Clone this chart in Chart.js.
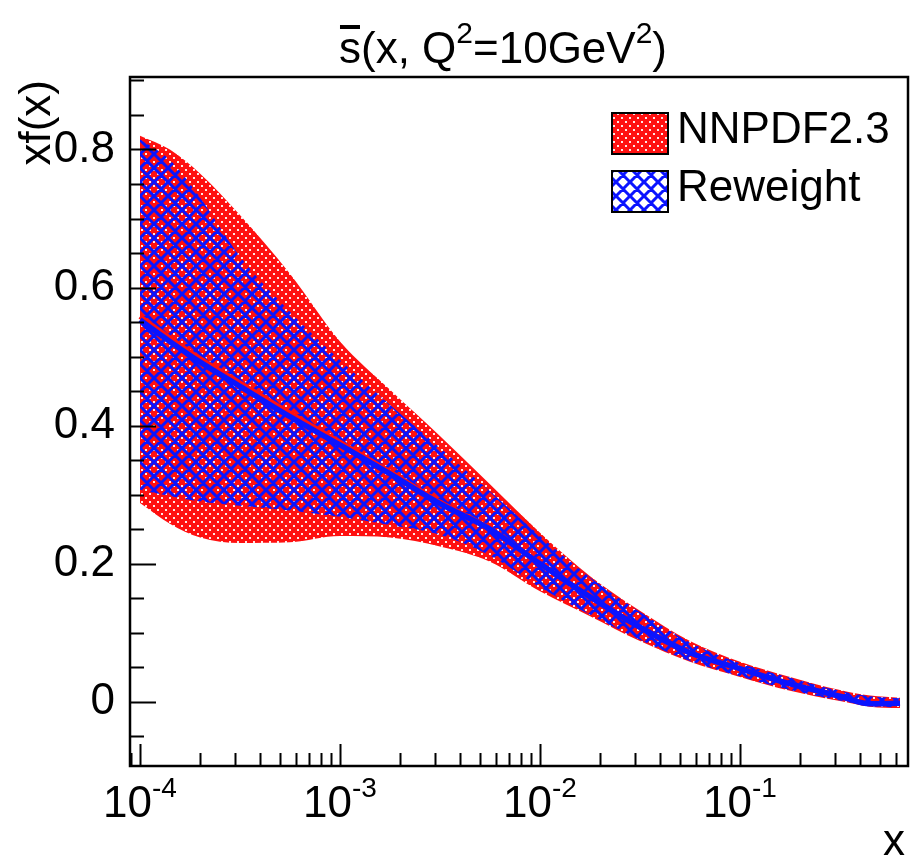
<!DOCTYPE html>
<html>
<head>
<meta charset="utf-8">
<script src="https://cdn.jsdelivr.net/npm/chart.js@4.4.1/dist/chart.umd.min.js"></script>
<style>
  html, body { margin: 0; padding: 0; background: #fff; }
  canvas { display: block; }
</style>
</head>
<body>
<canvas id="pdfChart" width="910" height="862"></canvas>
<script>
// x points (log spaced) and band values
const xVals = [1e-4, 1.41e-4, 2e-4, 3.16e-4, 5.62e-4, 1e-3, 1.78e-3, 3.16e-3, 5.62e-3,
               1e-2, 1.78e-2, 3.16e-2, 5.62e-2, 0.1, 0.178, 0.316, 0.447, 0.631];

const nnpdfUpper   = [0.820, 0.800, 0.765, 0.705, 0.620, 0.522, 0.452, 0.385, 0.315,
                      0.245, 0.182, 0.132, 0.088, 0.058, 0.036, 0.017, 0.009, 0.006];
const nnpdfLower   = [0.288, 0.258, 0.238, 0.230, 0.231, 0.240, 0.238, 0.225, 0.203,
                      0.160, 0.124, 0.088, 0.058, 0.036, 0.016, 0.001, -0.007, -0.009];
const nnpdfCentral = [0.558, 0.527, 0.497, 0.462, 0.418, 0.376, 0.333, 0.289, 0.251,
                      0.200, 0.152, 0.108, 0.071, 0.048, 0.026, 0.008, -0.003, -0.002];

const rwUpper   = [0.815, 0.785, 0.730, 0.645, 0.565, 0.495, 0.430, 0.368, 0.305,
                   0.240, 0.180, 0.130, 0.086, 0.056, 0.035, 0.016, 0.008, 0.005];
const rwLower   = [0.307, 0.298, 0.290, 0.284, 0.277, 0.268, 0.256, 0.242, 0.212,
                   0.166, 0.126, 0.090, 0.059, 0.037, 0.017, 0.002, -0.006, -0.008];
const rwCentral = [0.553, 0.522, 0.492, 0.457, 0.413, 0.372, 0.330, 0.287, 0.250,
                   0.200, 0.152, 0.108, 0.071, 0.048, 0.026, 0.008, -0.003, -0.002];

// tick labels
const yTickLabels = [0, 0.2, 0.4, 0.6, 0.8];
const xTickDecades = [-4, -3, -2, -1];
const legendLabels = ['NNPDF2.3', 'Reweight'];

const FONT = '"Liberation Sans", Arial, Helvetica, sans-serif';

function pts(arr) {
    return xVals.map((x, i) => ({ x: x, y: arr[i] }));
}

// red dotted fill
function makeRedPattern() {
    const c = document.createElement('canvas');
    c.width = 8; c.height = 8;
    const g = c.getContext('2d');
    g.fillStyle = '#ff1010';
    g.fillRect(0, 0, 8, 8);
    g.fillStyle = 'rgba(255,255,255,0.9)';
    g.fillRect(1, 1, 2, 2);
    g.fillRect(5, 5, 2, 2);
    return g.createPattern(c, 'repeat');
}

// blue cross hatch
function makeBluePattern() {
    const s = 14;
    const c = document.createElement('canvas');
    c.width = s; c.height = s;
    const g = c.getContext('2d');
    g.strokeStyle = '#0a14ff';
    g.lineWidth = 3;
    g.beginPath();
    for (let k = -1; k <= 1; k++) {
        g.moveTo(k * s, 0); g.lineTo(k * s + s, s);
        g.moveTo(k * s + s, 0); g.lineTo(k * s, s);
    }
    g.stroke();
    return g.createPattern(c, 'repeat');
}

const redPattern = makeRedPattern();
const bluePattern = makeBluePattern();

// frame, inward ticks and all the text
const decorations = {
    id: 'decorations',
    afterDatasetsDraw(chart) {
        const { ctx, chartArea: a, scales: { x, y } } = chart;
        ctx.save();
        ctx.strokeStyle = '#000';
        ctx.lineWidth = 2;
        ctx.beginPath();
        // y ticks every 0.05, long ones at 0.2
        for (let i = -2; i <= 18; i++) {
            const v = i * 0.05;
            if (v < y.min || v > y.max) continue;
            const py = Math.round(y.getPixelForValue(v)) + 0.5;
            const len = (i % 4 === 0) ? 26 : 14;
            ctx.moveTo(a.left, py); ctx.lineTo(a.left + len, py);
        }
        // x ticks: decades and 2..9
        for (let d = -5; d <= 0; d++) {
            for (let m = 1; m <= 9; m++) {
                const v = m * Math.pow(10, d);
                if (v < x.min || v > x.max) continue;
                const px = Math.round(x.getPixelForValue(v)) + 0.5;
                const len = (m === 1) ? 22 : 13;
                ctx.moveTo(px, a.bottom); ctx.lineTo(px, a.bottom - len);
            }
        }
        ctx.stroke();
        ctx.lineWidth = 2.5;
        ctx.strokeRect(a.left, a.top, a.right - a.left, a.bottom - a.top);
        ctx.restore();
    },
    afterDraw(chart) {
        const { ctx, chartArea: a, scales: { x, y } } = chart;
        ctx.save();
        ctx.fillStyle = '#000';

        // y labels
        ctx.font = '44px ' + FONT;
        ctx.textAlign = 'right';
        ctx.textBaseline = 'middle';
        yTickLabels.forEach(v => {
            ctx.fillText(v === 0 ? '0' : v.toFixed(1), 115, y.getPixelForValue(v));
        });

        // x labels 10^n
        ctx.textBaseline = 'alphabetic';
        ctx.textAlign = 'left';
        xTickDecades.forEach(d => {
            const px = x.getPixelForValue(Math.pow(10, d));
            ctx.font = '44px ' + FONT;
            const wb = ctx.measureText('10').width;
            ctx.font = '28px ' + FONT;
            const we = ctx.measureText(String(d)).width;
            const left = px - (wb + we) / 2;
            ctx.font = '44px ' + FONT;
            ctx.fillText('10', left, 817);
            ctx.font = '28px ' + FONT;
            ctx.fillText(String(d), left + wb, 797);
        });

        // axis titles
        ctx.font = '44px ' + FONT;
        ctx.textAlign = 'right';
        ctx.fillText('x', 905, 855);
        ctx.save();
        ctx.translate(50, 80);
        ctx.rotate(-Math.PI / 2);
        ctx.fillText('xf(x)', 0, 0);
        ctx.restore();

        // title: s-bar(x, Q^2=10GeV^2)
        const parts = [['s', 44, 0], ['(x, Q', 44, 0], ['2', 30, -20], ['=10GeV', 44, 0], ['2', 30, -20], [')', 44, 0]];
        let total = 0;
        parts.forEach(p => { ctx.font = p[1] + 'px ' + FONT; total += ctx.measureText(p[0]).width; });
        let tx = 503 - total / 2;
        const base = 63;
        ctx.textAlign = 'left';
        parts.forEach((p, i) => {
            ctx.font = p[1] + 'px ' + FONT;
            const w = ctx.measureText(p[0]).width;
            ctx.fillText(p[0], tx, base + p[2]);
            if (i === 0) ctx.fillRect(tx + 1, base - 38, w - 2, 4);
            tx += w;
        });

        // legend
        const boxes = [[redPattern, 113], [bluePattern, 171]];
        ctx.font = '44px ' + FONT;
        ctx.textAlign = 'left';
        boxes.forEach((b, i) => {
            ctx.fillStyle = b[0];
            ctx.fillRect(612, b[1], 56, 41);
            ctx.strokeStyle = '#000';
            ctx.lineWidth = 2;
            ctx.strokeRect(612, b[1], 56, 41);
            ctx.fillStyle = '#000';
            ctx.fillText(legendLabels[i], 677, b[1] + 30);
        });
        ctx.restore();
    }
};

document.addEventListener('DOMContentLoaded', function() {
    const ctx = document.getElementById('pdfChart').getContext('2d');
    const hidden = 'rgba(0,0,0,0)';
    new Chart(ctx, {
        type: 'line',
        data: {
            datasets: [{
                label: 'Reweight central',
                data: pts(rwCentral),
                borderColor: '#0a14ff',
                borderWidth: 5.5,
                fill: false,
                order: 0
            }, {
                label: 'NNPDF2.3 central',
                data: pts(nnpdfCentral),
                borderColor: '#ff1010',
                borderWidth: 5,
                fill: false,
                order: 1
            }, {
                label: 'Reweight',
                data: pts(rwUpper),
                borderColor: hidden,
                backgroundColor: bluePattern,
                fill: '+1',
                order: 2
            }, {
                label: 'Reweight lower',
                data: pts(rwLower),
                borderColor: hidden,
                fill: false,
                order: 3
            }, {
                label: 'NNPDF2.3',
                data: pts(nnpdfUpper),
                borderColor: hidden,
                backgroundColor: redPattern,
                fill: '+1',
                order: 4
            }, {
                label: 'NNPDF2.3 lower',
                data: pts(nnpdfLower),
                borderColor: hidden,
                fill: false,
                order: 5
            }]
        },
        options: {
            responsive: false,
            animation: false,
            devicePixelRatio: 1,
            layout: { padding: { top: 77, right: 2, left: 0, bottom: 0 } },
            elements: {
                point: { radius: 0 },
                line: { cubicInterpolationMode: 'monotone' }
            },
            scales: {
                x: {
                    type: 'logarithmic',
                    min: Math.pow(10, -4.05),
                    max: Math.pow(10, -0.16),
                    ticks: { display: false },
                    grid: { display: false },
                    border: { display: false },
                    afterFit: s => { s.height = 96; }
                },
                y: {
                    min: -0.093,
                    max: 0.905,
                    ticks: { display: false },
                    grid: { display: false },
                    border: { display: false },
                    afterFit: s => { s.width = 130; }
                }
            },
            plugins: {
                legend: { display: false },
                tooltip: { enabled: false }
            }
        },
        plugins: [decorations]
    });
});
</script>
</body>
</html>
